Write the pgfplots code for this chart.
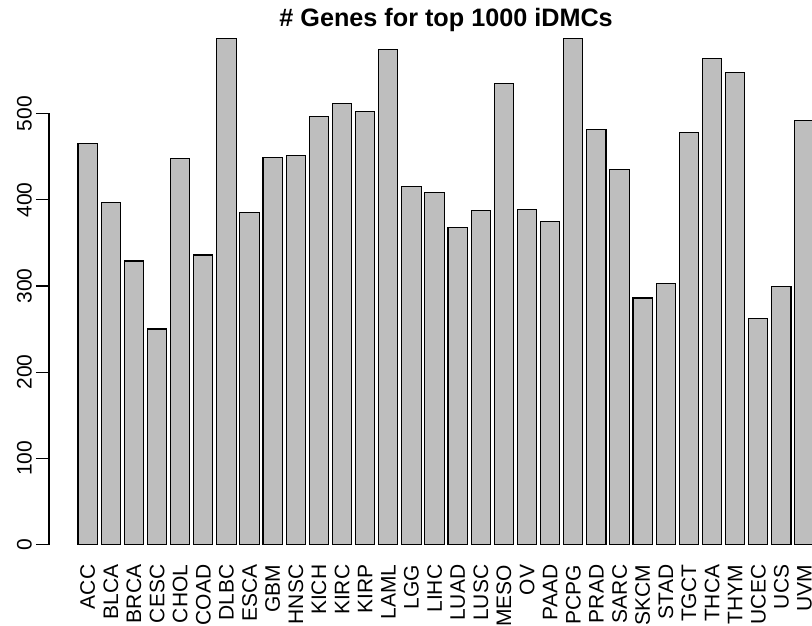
\documentclass[border=0pt]{standalone}
\usepackage{pgfplots}
\pgfplotsset{compat=1.18}
\usepackage{fontspec}
\setmainfont{Liberation Sans}
\definecolor{bargrey}{HTML}{BEBEBE}
\begin{document}
\begin{tikzpicture}[x=1pt,y=1pt]
\begin{axis}[
  name=main,
  scale only axis, width=795pt, height=546.4pt,
  xmin=-1.328, xmax=39.928, ymin=-23.5, ymax=611,
  axis line style={draw=none},
  clip=false,
  ytick={0,100,200,300,400,500},
  ytick pos=left,
  tick align=outside,
  major tick length=12.6pt,
  ytick style={black, line width=1.1pt},
  /pgf/number format/assume math mode=true,
  yticklabel style={inner sep=0pt, xshift=-4pt, rotate=90, anchor=south, font=\fontsize{21}{25}\selectfont},
  xtick={0.7,1.9,3.1,4.3,5.5,6.7,7.9,9.1,10.3,11.5,12.7,13.9,15.1,16.3,17.5,18.7,19.9,21.1,22.3,23.5,24.7,25.9,27.1,28.3,29.5,30.7,31.9,33.1,34.3,35.5,36.7,37.9},
  xticklabels={ACC,BLCA,BRCA,CESC,CHOL,COAD,DLBC,ESCA,GBM,HNSC,KICH,KIRC,KIRP,LAML,LGG,LIHC,LUAD,LUSC,MESO,OV,PAAD,PCPG,PRAD,SARC,SKCM,STAD,TGCT,THCA,THYM,UCEC,UCS,UVM},
  xtick style={draw=none},
  xticklabel style={inner sep=0pt, yshift=12.6pt, rotate=90, anchor=east, font=\fontsize{21}{25}\selectfont},
  title={\# Genes for top 1000 iDMCs},
  title style={at={(0.5,1)}, anchor=base, yshift=-14.6pt, inner sep=0pt, font=\bfseries\fontsize{25.2}{30}\selectfont},
]
\addplot[ybar, bar width=1, fill=bargrey, draw=black, line width=1.1pt] table {
x y
0.7 465
1.9 397
3.1 329
4.3 250
5.5 448
6.7 336
7.9 587
9.1 385
10.3 449
11.5 451
12.7 497
13.9 512
15.1 503
16.3 575
17.5 416
18.7 409
19.9 368
21.1 388
22.3 535
23.5 389
24.7 375
25.9 587
27.1 482
28.3 435
29.5 286
30.7 303
31.9 478
33.1 564
34.3 548
35.5 262
36.7 299
37.9 492
};
\end{axis}
\fill[black] ([yshift=19.7pt,xshift=-0.5pt]main.south west) rectangle ++(1.5pt,431.7pt);
\pgfresetboundingbox
\path[use as bounding box] ([xshift=-48.6pt,yshift=-60.46pt]main.south west) rectangle ++(812pt,625pt);
\end{tikzpicture}
\end{document}
